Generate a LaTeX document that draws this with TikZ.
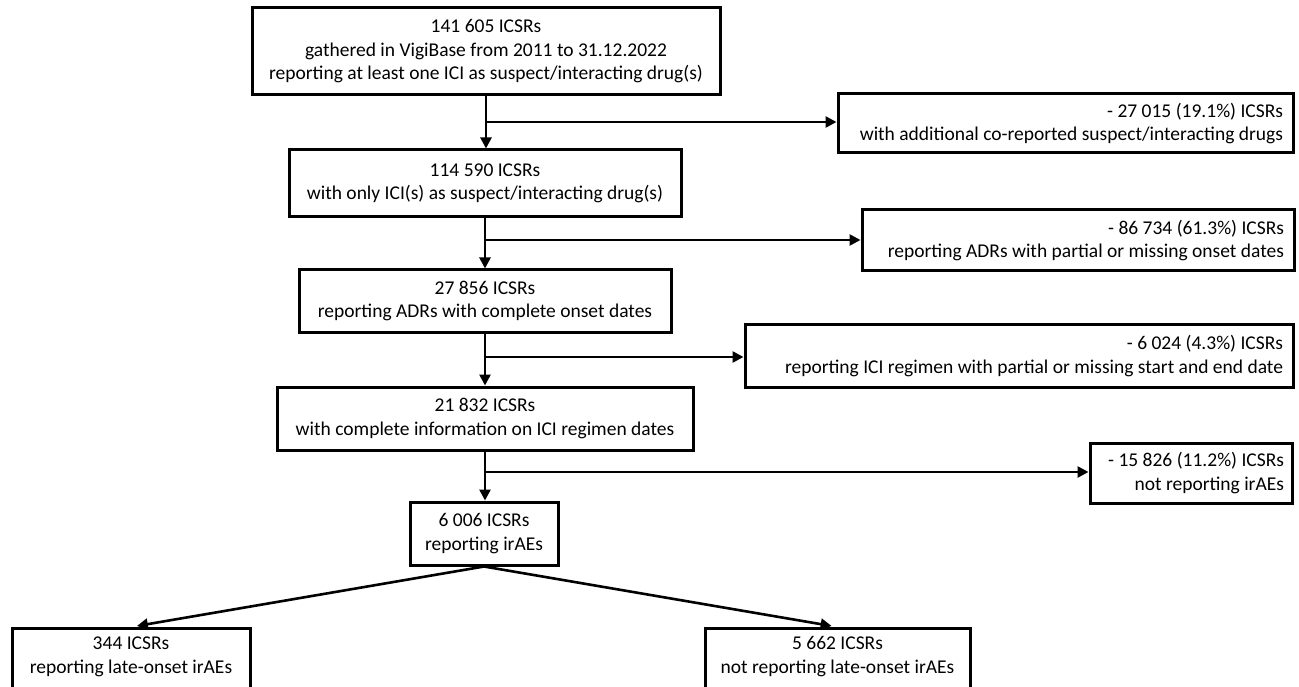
\documentclass[tikz,border=0pt]{standalone}
\usepackage{fontspec}
\setmainfont{Carlito}
\usetikzlibrary{arrows.meta}
\begin{document}
\begin{tikzpicture}[x=1pt,y=-1pt,
  every node/.style={font=\fontsize{19.5}{23.5}\selectfont},
  mainbox/.style={draw, line width=3pt, align=flush center, inner xsep=4pt, inner ysep=0pt},
  cutbox/.style={draw, line width=3pt, inner xsep=4pt, inner ysep=5pt, anchor=north},
  sidebox/.style={draw, line width=3pt, align=flush right, inner xsep=10pt, inner ysep=0pt},
  conn/.style={line width=2.6pt, -{Triangle[length=11pt,width=11pt]}},
]
\useasboundingbox (0,0) rectangle (1299,687);
\clip (0,0) rectangle (1299,687);

\node[mainbox, minimum width=468, minimum height=87] (b1) at (486,51.5) {141 605 ICSRs\\gathered in VigiBase from 2011 to 31.12.2022\\reporting at least one ICI as suspect/interacting drug(s)};
\node[mainbox, minimum width=392, minimum height=67] (b2) at (485,183.5) {114 590 ICSRs\\with only ICI(s) as suspect/interacting drug(s)};
\node[mainbox, minimum width=372, minimum height=62] (b3) at (485,301) {27 856 ICSRs\\reporting ADRs with complete onset dates};
\node[mainbox, minimum width=416, minimum height=63] (b4) at (485,418.5) {21 832 ICSRs\\with complete information on ICI regimen dates};
\node[mainbox, minimum width=148, minimum height=63] (b5) at (484,533.5) {6 006 ICSRs\\reporting irAEs};
\node[cutbox, minimum width=238] (b6) at (131,627) {\begin{tabular}[t]{@{}c@{}}344 ICSRs\\reporting late-onset irAEs\end{tabular}\rule[-60pt]{0pt}{1pt}};
\node[cutbox, minimum width=265] (b7) at (837.5,627) {\begin{tabular}[t]{@{}c@{}}5 662 ICSRs\\not reporting late-onset irAEs\end{tabular}\rule[-60pt]{0pt}{1pt}};

\node[sidebox, text width=435, minimum height=59] (r1) at (1065.5,123.5) {- 27 015 (19.1\%) ICSRs\\with additional co-reported suspect/interacting drugs};
\node[sidebox, text width=412, minimum height=61] (r2) at (1078,240.5) {- 86 734 (61.3\%) ICSRs\\reporting ADRs with partial or missing onset dates};
\node[sidebox, text width=528, minimum height=63] (r3) at (1019,356) {- 6 024 (4.3\%) ICSRs\\reporting ICI regimen with partial or missing start and end date};
\node[sidebox, text width=186, inner xsep=8pt, minimum height=60] (r4) at (1191,473) {- 15 826 (11.2\%) ICSRs\\not reporting irAEs};

\draw[conn] (b1.south) -- (b1.south |- b2.north);
\draw[conn] (b2.south) -- (b2.south |- b3.north);
\draw[conn] (b3.south) -- (b3.south |- b4.north);
\draw[conn] (b4.south) -- (b4.south |- b5.north);

\coordinate (j1) at (485,122);
\coordinate (j2) at (485,240);
\coordinate (j3) at (485,357);
\coordinate (j4) at (485,472);
\draw[conn] (j1) -- (j1 -| r1.west);
\draw[conn] (j2) -- (j2 -| r2.west);
\draw[conn] (j3) -- (j3 -| r3.west);
\draw[conn] (j4) -- (j4 -| r4.west);

\draw[conn, shorten >=6pt] (b5.south) -- (b6.north);
\draw[conn, shorten >=6pt] (b5.south) -- (b7.north);
\end{tikzpicture}
\end{document}
